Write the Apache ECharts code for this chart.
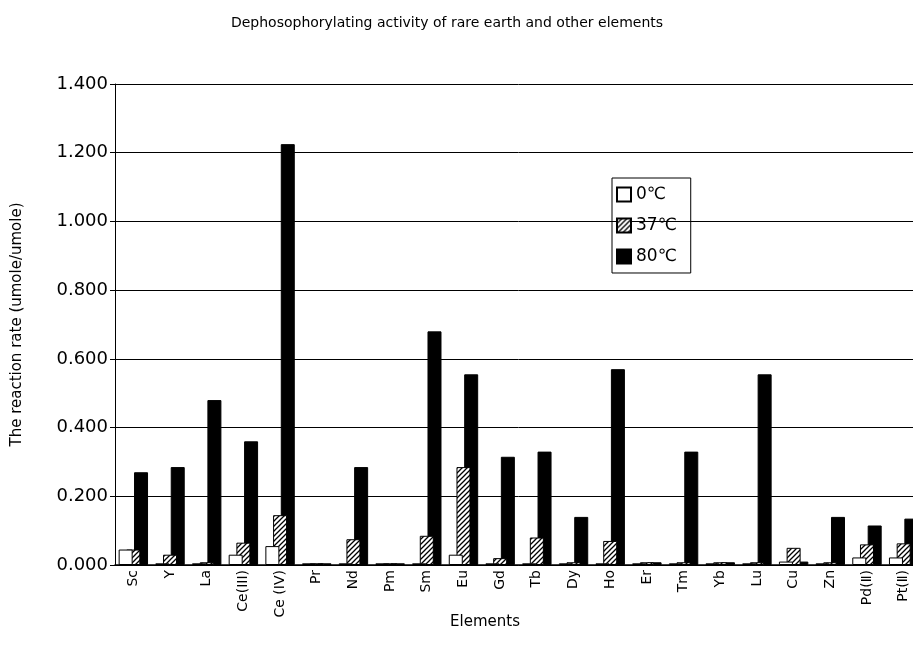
<!DOCTYPE html>
<html>
<head>
<meta charset="utf-8">
<script src="https://cdn.jsdelivr.net/npm/echarts@6/dist/echarts.min.js"></script>
<style>
  html, body { margin: 0; padding: 0; background: #fff; overflow: hidden; }
  #chart { width: 922px; height: 655px; }
</style>
</head>
<body>
<div id="chart"></div>
<script>
// ---- data ----
var elements = ['Sc', 'Y', 'La', 'Ce(III)', 'Ce (IV)', 'Pr', 'Nd', 'Pm', 'Sm', 'Eu', 'Gd',
    'Tb', 'Dy', 'Ho', 'Er', 'Tm', 'Yb', 'Lu', 'Cu', 'Zn', 'Pd(Ⅱ)', 'Pt(Ⅱ)'];
var rate0 = [0.045, 0.005, 0.005, 0.030, 0.055, 0.005, 0.005, 0.005, 0.005, 0.030, 0.005,
    0.005, 0.005, 0.005, 0.005, 0.005, 0.005, 0.005, 0.010, 0.005, 0.022, 0.022];
var rate37 = [0.045, 0.030, 0.008, 0.065, 0.145, 0.005, 0.075, 0.005, 0.085, 0.285, 0.020,
    0.080, 0.008, 0.070, 0.008, 0.008, 0.008, 0.008, 0.050, 0.008, 0.060, 0.063];
var rate80 = [0.270, 0.285, 0.480, 0.360, 1.225, 0.005, 0.285, 0.005, 0.680, 0.555, 0.315,
    0.330, 0.140, 0.570, 0.008, 0.330, 0.008, 0.555, 0.010, 0.140, 0.115, 0.135];
var seriesNames = ['0℃', '37℃', '80℃'];

var font = "'DejaVu Sans', 'Noto Sans CJK JP', sans-serif";

// diagonal hatch for the 37℃ bars
function hatch() {
    var c = document.createElement('canvas');
    c.width = 5;
    c.height = 5;
    var ctx = c.getContext('2d');
    ctx.fillStyle = '#fff';
    ctx.fillRect(0, 0, 5, 5);
    ctx.strokeStyle = '#000';
    ctx.lineWidth = 1.3;
    ctx.beginPath();
    ctx.moveTo(-1, 6); ctx.lineTo(6, -1);
    ctx.moveTo(-1, 1); ctx.lineTo(1, -1);
    ctx.moveTo(4, 6); ctx.lineTo(6, 4);
    ctx.stroke();
    return { image: c, repeat: 'repeat' };
}

var myChart = echarts.init(document.getElementById('chart'));

var bar = function (name, data, color, z) {
    return {
        name: name,
        type: 'bar',
        data: data,
        z: z,
        barWidth: 14,
        barGap: '-45%',
        itemStyle: { color: color, borderColor: '#000', borderWidth: 1 }
    };
};

var option = {
    animation: false,
    backgroundColor: '#fff',
    title: [
        {
            text: 'Dephosophorylating activity of rare earth and other elements',
            left: 442, top: 11, textAlign: 'center',
            textStyle: { fontFamily: font, fontSize: 14, fontWeight: 'normal', color: '#000' }
        },
        {
            text: 'Elements',
            left: 480, top: 610, textAlign: 'center',
            textStyle: { fontFamily: font, fontSize: 15, fontWeight: 'normal', color: '#000' }
        }
    ],
    legend: {
        orient: 'vertical',
        left: 612, top: 178,
        icon: 'rect',
        itemWidth: 14, itemHeight: 14, itemGap: 14,
        padding: [8, 14, 8, 4],
        borderColor: '#000', borderWidth: 1,
        textStyle: { fontFamily: font, fontSize: 17, color: '#000' },
        data: seriesNames
    },
    grid: { left: 115, right: 0, top: 84, bottom: 90 },
    xAxis: {
        type: 'category',
        data: elements,
        axisLine: { lineStyle: { color: '#000', width: 1.5 } },
        axisTick: { show: false },
        axisLabel: { interval: 0, rotate: 90, margin: 5, fontFamily: font, fontSize: 14, color: '#000' }
    },
    yAxis: {
        type: 'value',
        min: 0, max: 1.4, interval: 0.2,
        name: 'The reaction rate (umole/umole)',
        nameLocation: 'middle', nameGap: 90,
        nameTextStyle: { fontFamily: font, fontSize: 15, color: '#000' },
        axisLine: { show: true, lineStyle: { color: '#000' } },
        axisTick: { show: true, length: 5, lineStyle: { color: '#000' } },
        axisLabel: {
            margin: 7, fontFamily: font, fontSize: 18, color: '#000',
            formatter: function (v) { return v.toFixed(3); }
        },
        splitLine: { lineStyle: { color: '#000', width: 1 } }
    },
    series: [
        bar(seriesNames[0], rate0, '#fff', 4),
        bar(seriesNames[1], rate37, hatch(), 3),
        bar(seriesNames[2], rate80, '#000', 2)
    ]
};

myChart.setOption(option);
</script>
</body>
</html>
